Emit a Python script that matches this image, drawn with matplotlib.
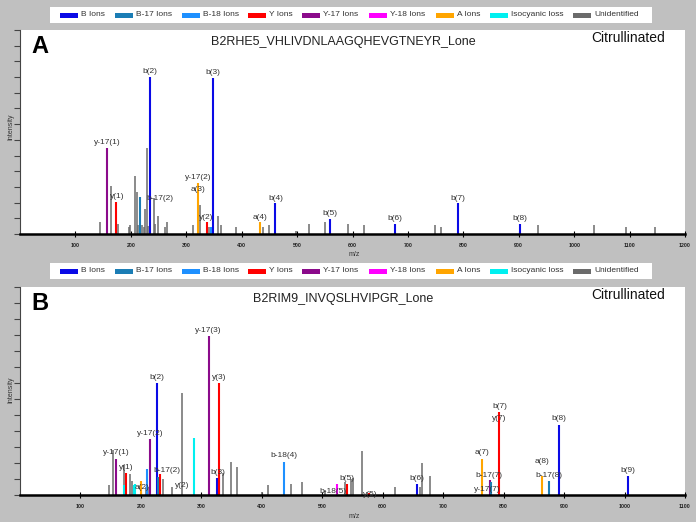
import matplotlib
matplotlib.use("Agg")
import matplotlib.pyplot as plt
from matplotlib.patches import Rectangle

plt.rcParams['font.family'] = ['Liberation Sans', 'DejaVu Sans']

# ion types and their colours
ion_names = ['B Ions', 'B-17 Ions', 'B-18 Ions', 'Y Ions', 'Y-17 Ions',
             'Y-18 Ions', 'A Ions', 'Isocyanic loss', 'Unidentified']
ion_colors = ['#0a0ae6', '#1b7db5', '#1e90ff', '#ff0000', '#8b0a8b',
              '#ff00ff', '#ffa500', '#00f0f0', '#6b6b6b']
kind = {'b': 0, 'b17': 1, 'b18': 2, 'y': 3, 'y17': 4, 'y18': 5, 'a': 6, 'iso': 7, 'u': 8}

# ---- panel A : B2RHE5 ----
a_title = 'B2RHE5_VHLIVDNLAAGQHEVGTNEYR_Lone'
a_mz = [145, 164, 177, 197.5, 199, 208, 210.7, 213, 220, 224, 226.4, 228.8, 231,
        242, 244.5, 249, 262, 265.5, 312.4, 324.5, 341, 358, 362.3, 390, 439, 449.6,
        498, 521, 549.5, 591.6, 621, 748.6, 760, 935, 1035, 1093, 1146,
        157, 174, 217, 235.4, 320.8, 337.8, 345, 348.6, 433.4, 461, 560.3, 675.8,
        790, 902]
a_int = [0.75, 3.08, 0.64, 0.47, 0.58, 3.67, 2.67, 0.58, 0.58, 0.47, 1.58, 5.49, 0.5,
         2.29, 0.64, 1.15, 0.43, 0.75, 0.58, 1.86, 0.47, 1.15, 0.58, 0.47, 0.47, 0.58,
         0.2, 0.64, 0.75, 0.64, 0.58, 0.58, 0.43, 0.58, 0.58, 0.43, 0.43,
         5.49, 2.03, 2.35, 10.0, 3.25, 0.75, 0.43, 9.91, 0.75, 1.97, 0.96, 0.64,
         1.97, 0.64]
a_kind = ['u'] * 37 + ['y17', 'y', 'b17', 'b', 'a', 'y', 'b18', 'b', 'a', 'b', 'b', 'b',
                       'b', 'b']
a_labels = [('y-17(1)', 157, 5.81), ('y(1)', 174.6, 2.39), ('b(2)', 235, 10.34),
            ('b(3)', 348.6, 10.26), ('y-17(2)', 321, 3.63), ('a(3)', 322, 2.82),
            ('b-17(2)', 253, 2.29), ('y(2)', 336.5, 1.07), ('a(4)', 433.4, 1.07),
            ('b(4)', 461.6, 2.29), ('b(5)', 560, 1.32), ('b(6)', 675.8, 1.0),
            ('b(7)', 790, 2.29), ('b(8)', 902, 1.0)]

# ---- panel B : B2RIM9 ----
b_title = 'B2RIM9_INVQSLHVIPGR_Lone'
b_mz = [146.4, 154, 172.4, 181.8, 185.6, 208, 212.7, 236.5, 251, 267.5, 335.5, 349.3,
        358.6, 400.7, 410, 448.8, 466.5, 505, 537.5, 548.3, 551, 566, 621, 661, 665, 678,
        158, 171.3, 175.7, 188, 190, 199.5, 210, 215.5, 226.5, 229, 232, 287.4, 312.2,
        326.6, 328.8, 329.4, 436, 524.5, 541, 578, 656, 765, 777, 779, 792.6, 864,
        875.5, 891.5, 1005.4]
b_int = [0.62, 2.8, 1.87, 1.29, 0.87, 0.48, 0.5, 0.97, 0.48, 6.39, 1.39, 2.07,
         1.76, 0.17, 0.62, 0.66, 0.79, 0.31, 0.79, 0.97, 1.04, 2.76, 0.48, 0.48, 1.97, 1.18,
         2.28, 0.62, 1.39, 0.62, 0.66, 0.89, 1.6, 3.49, 6.99, 1.1, 1.29, 3.59, 9.96,
         1.08, 1.29, 6.99, 2.07, 0.66, 0.66, 0.15, 0.66, 2.28, 0.93, 0.8, 5.19, 1.2,
         0.87, 4.36, 1.18]
b_kind = ['u'] * 26 + ['y17', 'iso', 'y', 'iso', 'iso', 'a', 'b18', 'y17', 'b', 'b17',
                       'y', 'iso', 'y17', 'b', 'y17', 'y', 'b18', 'y18', 'y', 'y', 'b',
                       'a', 'y17', 'b17', 'y', 'a', 'b17', 'b', 'b']
b_labels = [('y-17(1)', 158.5, 2.66), ('y(1)', 176.2, 1.72), ('a(2)', 202.2, 0.48),
            ('y-17(2)', 216, 3.86), ('b(2)', 227, 7.37), ('b-17(2)', 242.6, 1.56),
            ('y(2)', 269, 0.62), ('y-17(3)', 312, 10.31), ('y(3)', 330, 7.32),
            ('b(3)', 326.6, 1.41), ('b-18(4)', 437, 2.45), ('b-18(5)', 518, 0.21),
            ('b(5)', 541, 1.04), ('y(5)', 578.6, 0.02), ('b(6)', 656, 1.04),
            ('a(7)', 765, 2.63), ('b-17(7)', 776, 1.24), ('y-17(7)', 773, 0.35),
            ('b(7)', 793, 5.54), ('y(7)', 793, 4.75), ('a(8)', 864, 2.12),
            ('b-17(8)', 875.5, 1.24), ('b(8)', 892, 4.75), ('b(9)', 1005.4, 1.56)]

W, H = 696, 522
fig = plt.figure(figsize=(W / 100, H / 100), dpi=100)
fig.patch.set_facecolor('#c0c0c0')


def px(x, y):
    return x / W, 1 - y / H


def draw_legend(top):
    x0, y0 = px(50, top + 16)
    fig.patches.append(Rectangle((x0, y0), 602 / W, 16 / H, transform=fig.transFigure,
                                 facecolor='white', edgecolor='none'))
    patch_x = [60, 115, 182, 248, 302, 369, 436, 490, 573]
    for name, col, x in zip(ion_names, ion_colors, patch_x):
        rx, ry = px(x, top + 10.5)
        fig.patches.append(Rectangle((rx, ry), 18 / W, 5 / H, transform=fig.transFigure,
                                     facecolor=col, edgecolor='none'))
        tx, ty = px(x + 21, top + 8)
        fig.text(tx, ty, name, fontsize=6, color='#333333', va='center', ha='left')


def draw_panel(rect, mz, inten, kinds, labels, title, xmax, letter):
    ax = fig.add_axes(rect)
    ax.set_facecolor('white')
    order = sorted(range(len(mz)), key=lambda i: kinds[i] != 'u')
    for i in order:
        k = kind[kinds[i]]
        ax.vlines(mz[i], 0, inten[i], colors=ion_colors[k],
                  lw=1.1 if k == 8 else 1.5)
    for text, x, y in labels:
        ax.text(x, y, text, fontsize=6, color='#333333', ha='center', va='center')
    ax.set_xlim(0, xmax)
    ax.set_ylim(0, 13)
    ax.set_xticks(range(100, xmax + 1, 100))
    ax.set_xticklabels([str(v) for v in range(100, xmax + 1, 100)],
                       fontsize=3.8, fontweight='bold', color='#222222')
    ax.set_yticks(range(0, 14))
    ax.set_yticklabels([])
    ax.tick_params(axis='x', direction='inout', length=5, width=0.8, pad=4)
    ax.tick_params(axis='y', direction='out', length=4, width=0.8, color='#444444')
    for s in ['top', 'right']:
        ax.spines[s].set_visible(False)
    ax.spines['bottom'].set_linewidth(1.8)
    ax.spines['bottom'].set_color('black')
    ax.spines['left'].set_color('#444444')
    ax.spines['left'].set_linewidth(0.8)
    ax.text(0.486, 0.94, title, transform=ax.transAxes, fontsize=9, ha='center',
            va='center', color='#222222')
    ax.text(0.915, 0.96, 'Citrullinated', transform=ax.transAxes, fontsize=10,
            ha='center', va='center', color='#111111')
    ax.text(0.03, 0.92, letter, transform=ax.transAxes, fontsize=17,
            fontweight='bold', ha='center', va='center', color='black')
    return ax


draw_legend(7)
draw_panel([20 / W, 1 - 234 / H, 665 / W, 204 / H], a_mz, a_int, a_kind, a_labels,
           a_title, 1200, 'A')
fig.text(*px(354, 254), 'm/z', fontsize=5, color='#333333', ha='center', va='center')
fig.text(*px(11, 127), 'Intensity', fontsize=5, color='#333333', ha='center',
         va='center', rotation=90)

draw_legend(263)
draw_panel([20 / W, 1 - 495 / H, 665 / W, 208 / H], b_mz, b_int, b_kind, b_labels,
           b_title, 1100, 'B')
fig.text(*px(354, 517), 'm/z', fontsize=5, color='#333333', ha='center', va='center')
fig.text(*px(11, 390), 'Intensity', fontsize=5, color='#333333', ha='center',
         va='center', rotation=90)

fig.savefig('out.png', dpi=100, facecolor=fig.get_facecolor())
